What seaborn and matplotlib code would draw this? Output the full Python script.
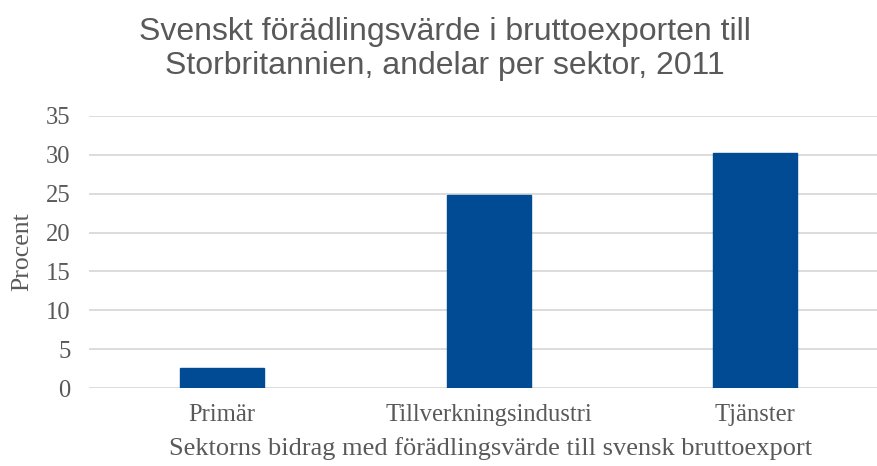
import matplotlib
matplotlib.use("Agg")
import matplotlib.pyplot as plt
import seaborn as sns
import pandas as pd

categories = ["Primär", "Tillverkningsindustri", "Tjänster"]
values = [2.6, 24.8, 30.2]
yticks = [0, 5, 10, 15, 20, 25, 30, 35]

title = "Svenskt förädlingsvärde i bruttoexporten till\nStorbritannien, andelar per sektor, 2011"
xlabel = "Sektorns bidrag med förädlingsvärde till svensk bruttoexport"
ylabel = "Procent"

df = pd.DataFrame({"Sektor": categories, "Procent": values})

sns.set_theme(style="white")
plt.rcParams["font.family"] = ["Liberation Serif", "DejaVu Serif"]

W, H = 877, 466
fig = plt.figure(figsize=(W / 100, H / 100), dpi=100)
ax = fig.add_axes([88.7 / W, 1 - 388.3 / H, (W - 88.7) / W, (388.3 - 115.7) / H])

sns.barplot(data=df, x="Sektor", y="Procent", color="#004B93", width=0.315,
            saturation=1, ax=ax, zorder=3, edgecolor="#004B93")

ax.set_ylim(0, 35)
ax.set_xlim(-0.5, 2.457)
ax.set_yticks(yticks)
ax.set_yticklabels([str(t) for t in yticks])
ax.yaxis.grid(True, color="#D9D9D9", linewidth=1.3, zorder=0)
ax.xaxis.grid(False)
for s in ax.spines.values():
    s.set_visible(False)
ax.tick_params(axis="both", length=0, labelsize=17.7, colors="#595959")
ax.tick_params(axis="y", pad=13)
ax.tick_params(axis="x", pad=11)

ax.set_xlabel(xlabel, fontsize=19, color="#595959", labelpad=8)
ax.xaxis.label.set_x(0.51)
ax.set_ylabel(ylabel, fontsize=18.5, color="#595959", labelpad=9)

fig.text(445 / W, 1 - 49 / H, title, ha="center", va="center", fontsize=23,
         color="#595959", family=["Liberation Sans", "DejaVu Sans"], linespacing=1.15)

fig.savefig("out.png", dpi=100, facecolor="white")
